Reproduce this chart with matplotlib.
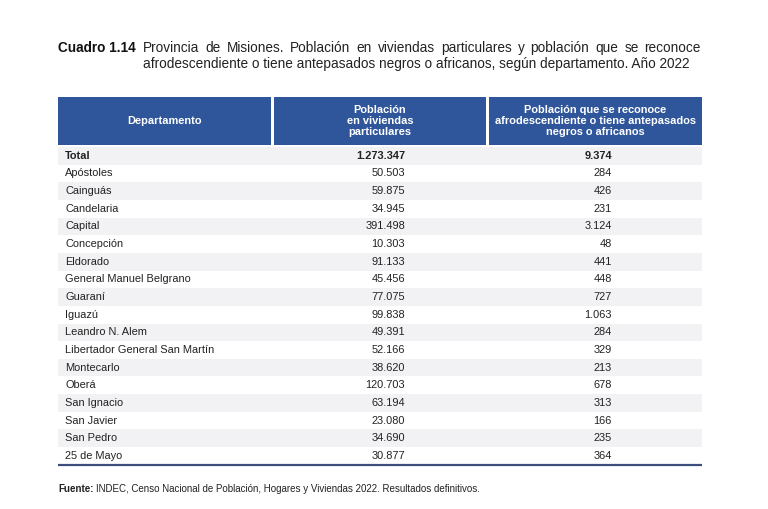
import matplotlib
matplotlib.use("Agg")
import matplotlib.pyplot as plt
from matplotlib.patches import Rectangle

departamentos = ["Total", "Apóstoles", "Cainguás", "Candelaria", "Capital", "Concepción",
                 "Eldorado", "General Manuel Belgrano", "Guaraní", "Iguazú", "Leandro N. Alem",
                 "Libertador General San Martín", "Montecarlo", "Oberá", "San Ignacio",
                 "San Javier", "San Pedro", "25 de Mayo"]
poblacion = [1273347, 50503, 59875, 34945, 391498, 10303, 91133, 45456, 77075, 99838,
             49391, 52166, 38620, 120703, 63194, 23080, 34690, 30877]
afro = [9374, 284, 426, 231, 3124, 48, 441, 448, 727, 1063, 284, 329, 213, 678, 313,
        166, 235, 364]
headers = ["Departamento", "Población\nen viviendas\nparticulares",
           "Población que se reconoce\nafrodescendiente o tiene antepasados\nnegros o africanos"]
title1 = "Provincia de Misiones. Población en viviendas particulares y población que se reconoce"
title2 = "afrodescendiente o tiene antepasados negros o africanos, según departamento. Año 2022"

def fmt(v):
    return f"{v:,}".replace(",", ".")

plt.rcParams['font.family'] = ['Liberation Sans', 'DejaVu Sans']
fig = plt.figure(figsize=(7.68, 5.09), dpi=100)
ax = fig.add_axes([0, 0, 1, 1])
ax.set_xlim(0, 768)
ax.set_ylim(509, 0)
ax.axis('off')
renderer = fig.canvas.get_renderer()

def width(t):
    return t.get_window_extent(renderer=renderer).width

blue = '#2F569B'
tc = '#222222'
# title
ax.text(58, 48, "Cuadro 1.14", fontsize=9.8, fontweight='bold', va='center', ha='left', color='#111111')
# justified first line
words = title1.split(" ")
arts = [ax.text(0, 48, w, fontsize=9.8, va='center', ha='left', color=tc) for w in words]
total = sum(width(a) for a in arts)
gap = (701 - 143 - total) / (len(words) - 1)
x = 143
for a in arts:
    a.set_x(x)
    x += width(a) + gap
ax.text(143, 64, title2, fontsize=9.8, va='center', ha='left', color=tc)

# header
cols = [(58, 271), (274, 486), (489, 702)]
top, bot = 97, 145
for (x0, x1), h in zip(cols, headers):
    ax.add_patch(Rectangle((x0, top), x1 - x0, bot - top, facecolor=blue, edgecolor='none'))
    ax.text((x0 + x1) / 2, (top + bot) / 2, h, color='white', fontsize=7.9, fontweight='bold',
            ha='center', va='center', linespacing=1.1)

# rows
y0 = 147
rh = 17.65
for i, (d, p, a) in enumerate(zip(departamentos, poblacion, afro)):
    yt = y0 + i * rh
    if i % 2 == 0:
        ax.add_patch(Rectangle((58, yt), 702 - 58, rh, facecolor='#F2F2F4', edgecolor='none'))
    w = 'bold' if i == 0 else 'normal'
    yc = yt + rh / 2
    ax.text(65, yc, d, fontsize=7.9, fontweight=w, ha='left', va='center', color=tc)
    ax.text(405, yc, fmt(p), fontsize=7.9, fontweight=w, ha='right', va='center', color=tc)
    ax.text(612, yc, fmt(a), fontsize=7.9, fontweight=w, ha='right', va='center', color=tc)

ax.plot([58, 702], [y0 + len(departamentos) * rh] * 2, color='#3B4E7E', lw=1.6, solid_capstyle='butt')

# footer
f1 = ax.text(58, 489, "Fuente:", fontsize=7.0, fontweight='bold', ha='left', va='center', color=tc)
ax.text(58 + width(f1) + 3, 489,
        "INDEC, Censo Nacional de Población, Hogares y Viviendas 2022. Resultados definitivos.",
        fontsize=7.0, ha='left', va='center', color=tc)

fig.savefig("out.png", dpi=100)
